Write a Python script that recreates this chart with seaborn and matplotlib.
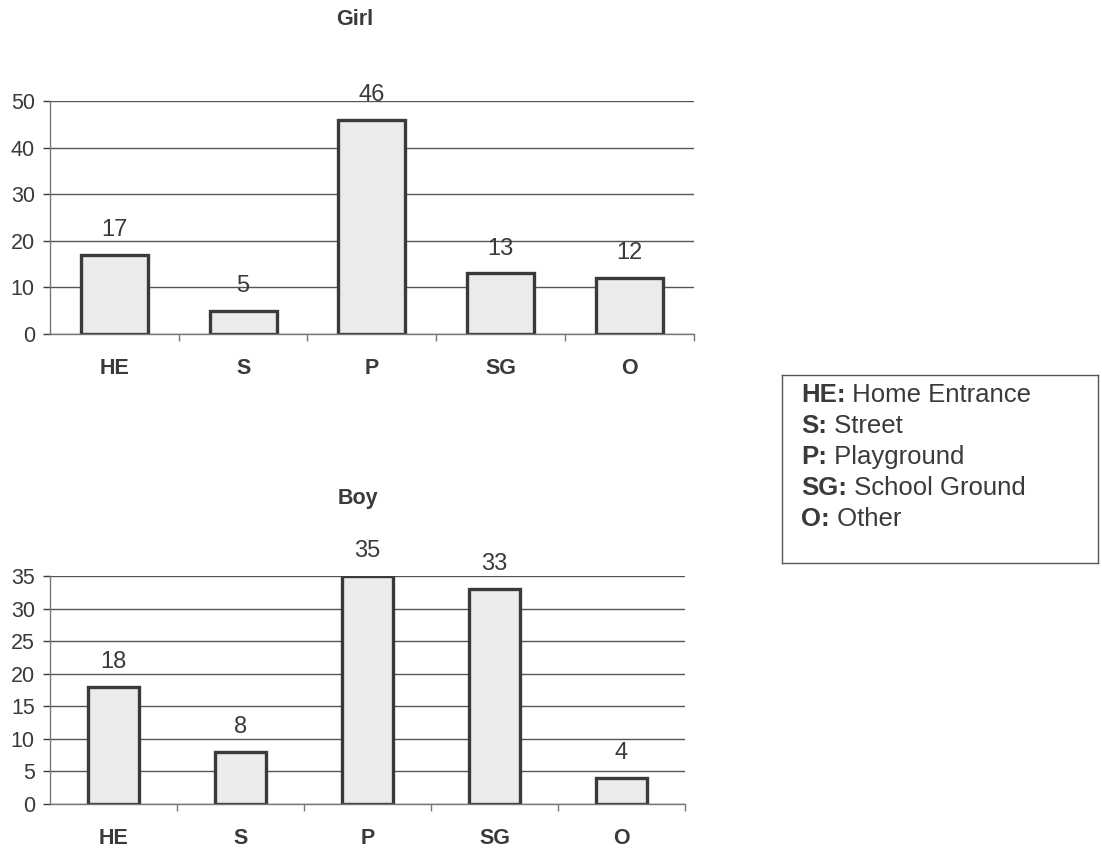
import matplotlib
matplotlib.use("Agg")
import matplotlib.pyplot as plt
import seaborn as sns
import pandas as pd
import numpy as np

categories = ["HE", "S", "P", "SG", "O"]
girl_values = [17, 5, 46, 13, 12]
boy_values = [18, 8, 35, 33, 4]
legend_codes = ["HE:", "S:", "P:", "SG:", "O:"]
legend_names = ["Home Entrance", "Street", "Playground", "School Ground", "Other"]

sns.set_style("white")
plt.rcParams["font.family"] = ["Liberation Sans", "DejaVu Sans"]

ink = "#3a3a3a"
fig = plt.figure(figsize=(11.02, 8.57), dpi=100)


def draw_panel(rect, values, title, ymax, step, bar_width, title_x, title_pad):
    ax = fig.add_axes(rect)
    df = pd.DataFrame({"place": categories, "count": values})
    sns.barplot(data=df, x="place", y="count", ax=ax, color="#ebebeb",
                edgecolor=ink, linewidth=2.4, width=bar_width, saturation=1)
    ax.set_ylim(0, ymax)
    ax.set_xlim(-0.5, len(categories) - 0.5)
    ax.set_yticks(np.arange(0, ymax + 1, step))
    ax.yaxis.grid(True, color="#555555", linewidth=1.0)
    ax.set_axisbelow(True)
    for s in ["top", "right"]:
        ax.spines[s].set_visible(False)
    for s in ["left", "bottom"]:
        ax.spines[s].set_color("#777777")
        ax.spines[s].set_linewidth(1.0)
    ax.set_xlabel("")
    ax.set_ylabel("")
    ax.tick_params(axis="y", labelsize=15.5, colors=ink, length=5, width=1,
                   left=True, pad=6)
    ax.tick_params(axis="x", which="major", length=0, labelsize=15.5, pad=17,
                   labelcolor=ink)
    ax.set_xticks(np.arange(len(categories)) + 0.5, minor=True)
    ax.tick_params(axis="x", which="minor", length=5, width=1, color="#777777",
                   bottom=True)
    for lbl in ax.get_xticklabels():
        lbl.set_fontweight("bold")
    for container in ax.containers:
        ax.bar_label(container, fontsize=17, color=ink, padding=10)
    ax.set_title(title, fontsize=15.5, fontweight="bold", color=ink,
                 pad=title_pad, x=title_x)
    return ax


draw_panel([0.0454, 0.6103, 0.584, 0.2718], girl_values, "Girl", 50, 10, 0.52,
           0.474, 55)
draw_panel([0.0454, 0.0618, 0.5762, 0.2661], boy_values, "Boy", 35, 5, 0.40,
           0.485, 52)

# key box on the right
lax = fig.add_axes([0.7096, 0.343, 0.2868, 0.2194])
lax.set_xticks([])
lax.set_yticks([])
for s in lax.spines.values():
    s.set_color("#555555")
    s.set_linewidth(1.0)
y = 0.894
for code, name in zip(legend_codes, legend_names):
    t = lax.text(0.06, y, code, fontsize=18.5, fontweight="bold", color=ink,
                 va="center", transform=lax.transAxes)
    lax.annotate(" " + name, xy=(1, 0), xycoords=t, fontsize=18.5, color=ink,
                 va="bottom")
    y -= 0.165

fig.savefig("out.png", dpi=100)
